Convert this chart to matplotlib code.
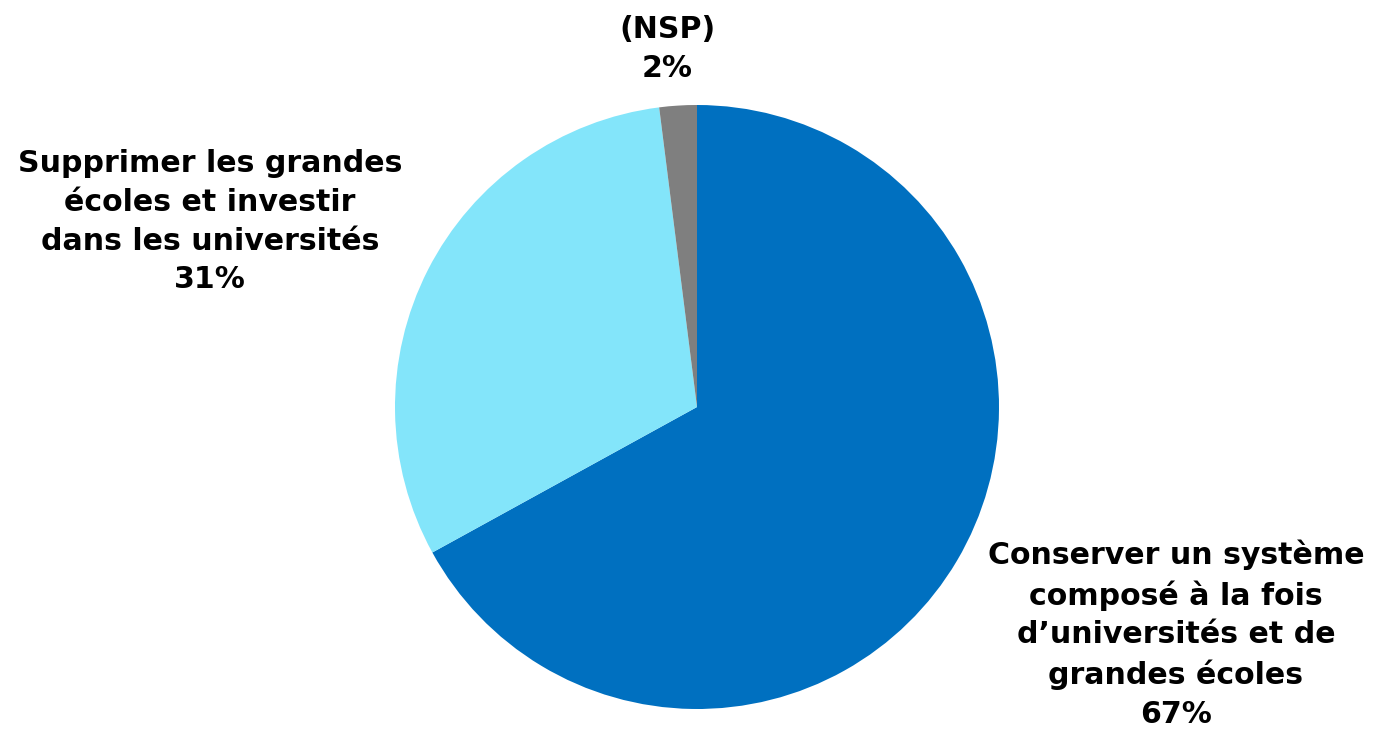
import numpy as np
from matplotlib import pyplot as plt

labels = ["Conserver un système\ncomposé à la fois\nd\u2019universités et de\ngrandes écoles",
          "Supprimer les grandes\nécoles et investir\ndans les universités",
          "(NSP)"]
values = [67, 31, 2]
colors = ['#0070C0', '#83E5FA', '#7F7F7F']
# label centres in axes data units (pie radius = 1)
label_pos = [(1.586, -0.752), (-1.613, 0.613), (-0.099, 1.185)]

fig = plt.figure(figsize=(13.73, 7.35), dpi=100)
ax = fig.add_axes([395 / 1373, 26 / 735, 604 / 1373, 604 / 735])

ax.pie(values, colors=colors, startangle=90, counterclock=False,
       radius=1, wedgeprops=dict(linewidth=0))

for lab, val, (x, y) in zip(labels, values, label_pos):
    ax.text(x, y, f"{lab}\n{val}%", ha='center', va='center',
            multialignment='center', fontsize=21.6, fontweight='bold',
            family='DejaVu Sans', linespacing=1.42, clip_on=False)

ax.set_xlim(-1, 1)
ax.set_ylim(-1, 1)
ax.set_aspect('equal')
ax.axis('off')

fig.savefig('out.png', dpi=100)
